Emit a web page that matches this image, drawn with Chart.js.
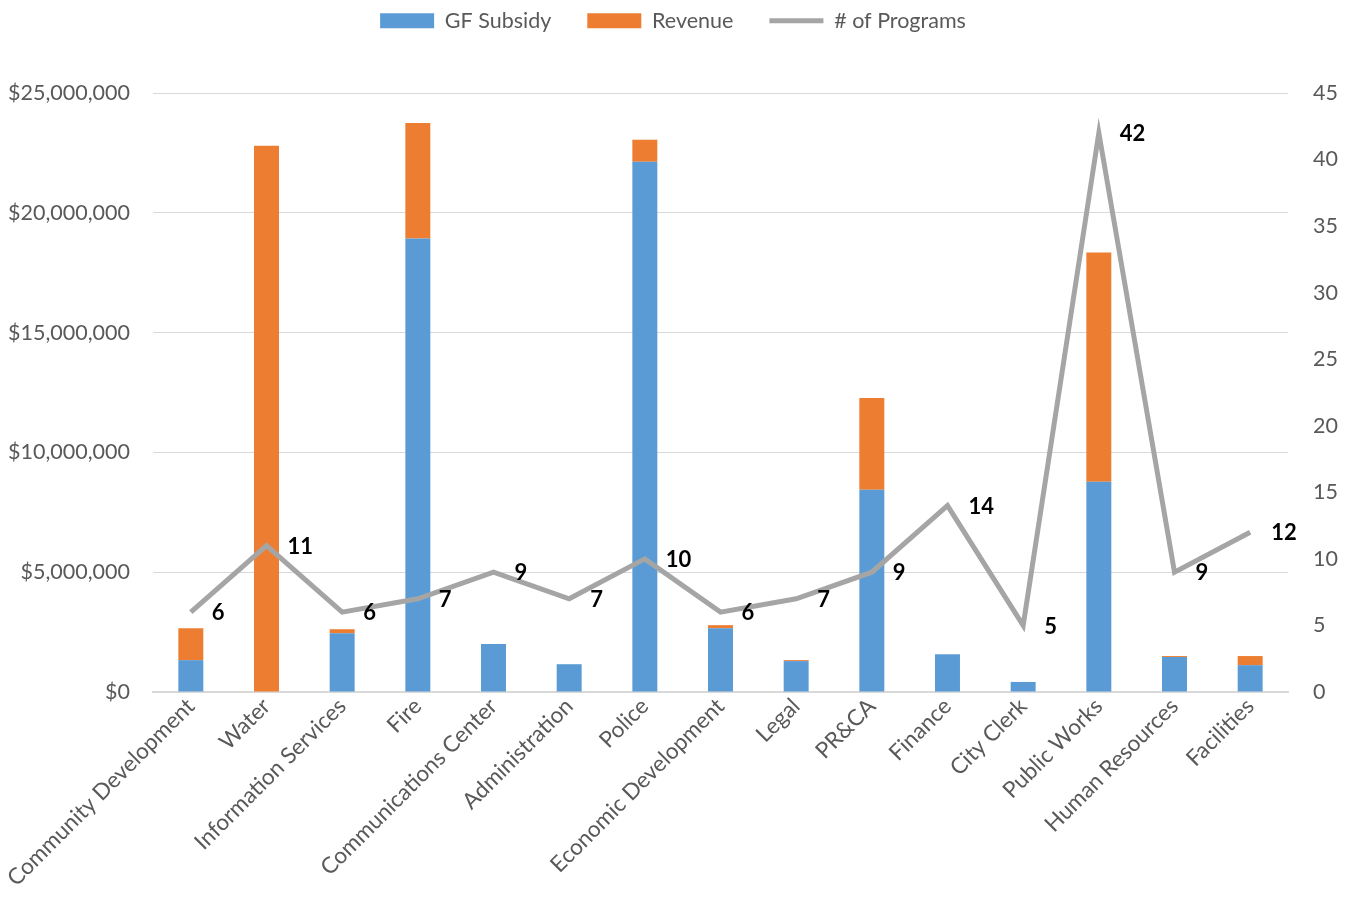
<!DOCTYPE html>
<html>
<head>
<meta charset="utf-8">
<script src="https://cdn.jsdelivr.net/npm/chart.js@4/dist/chart.umd.min.js"></script>
<style>
  html, body { margin: 0; padding: 0; background: #fff; }
  #wrap { width: 1346px; height: 899px; }
</style>
</head>
<body>
<div id="wrap"><canvas id="budget"></canvas></div>
<script>
"use strict";

// departments along the bottom
const departments = [
    "Community Development", "Water", "Information Services", "Fire",
    "Communications Center", "Administration", "Police", "Economic Development",
    "Legal", "PR&CA", "Finance", "City Clerk", "Public Works",
    "Human Resources", "Facilities"
];

// dollars
const gfSubsidy = [
    1330000, 0, 2450000, 18930000, 2000000, 1160000, 22130000, 2660000,
    1290000, 8440000, 1580000, 420000, 8780000, 1460000, 1120000
];
const revenue = [
    1330000, 22800000, 170000, 4820000, 0, 0, 920000, 130000,
    40000, 3830000, 0, 0, 9560000, 40000, 380000
];

// number of programs (right axis)
const programs = [6, 11, 6, 7, 9, 7, 10, 6, 7, 9, 14, 5, 42, 9, 12];

const FONT = "Lato, 'Open Sans', sans-serif";
const GREY_TEXT = "#595959";

/**
 * Skriver antal program till höger om varje punkt på linjen.
 */
const lineLabels = {
    id: "lineLabels",
    afterDatasetsDraw(chart) {
        const meta = chart.getDatasetMeta(0);
        const ctx = chart.ctx;
        ctx.save();
        ctx.font = "bold 22px " + FONT;
        ctx.fillStyle = "#000";
        ctx.textAlign = "left";
        ctx.textBaseline = "middle";
        meta.data.forEach((pt, i) => {
            ctx.fillText(String(programs[i]), pt.x + 21, pt.y + 1);
        });
        ctx.restore();
    }
};

/**
 * Håller legenden i toppen och ger plats åt rutan nedanför.
 */
const legendSpace = {
    id: "legendSpace",
    beforeInit(chart) {
        const fit = chart.legend.fit;
        chart.legend.fit = function () {
            fit.call(this);
            this.height = 119;
        };
    }
};

new Chart(document.getElementById("budget"), {
    data: {
        labels: departments,
        datasets: [
            {
                type: "line",
                label: "# of Programs",
                data: programs,
                yAxisID: "y1",
                borderColor: "#A5A5A5",
                backgroundColor: "#A5A5A5",
                borderWidth: 5,
                pointRadius: 0,
                tension: 0,
                order: 0
            },
            {
                type: "bar",
                label: "GF Subsidy",
                data: gfSubsidy,
                yAxisID: "y",
                backgroundColor: "#5B9BD5",
                categoryPercentage: 1,
                barPercentage: 0.33,
                order: 1
            },
            {
                type: "bar",
                label: "Revenue",
                data: revenue,
                yAxisID: "y",
                backgroundColor: "#ED7D31",
                categoryPercentage: 1,
                barPercentage: 0.33,
                order: 1
            }
        ]
    },
    options: {
        responsive: true,
        maintainAspectRatio: false,
        animation: false,
        layout: { padding: { top: -26, left: 0, right: 0, bottom: 0 } },
        plugins: {
            tooltip: { enabled: false },
            legend: {
                position: "top",
                labels: {
                    font: { family: FONT, size: 21.5 },
                    color: GREY_TEXT,
                    usePointStyle: true,
                    pointStyleWidth: 54,
                    boxHeight: 15,
                    padding: 36,
                    sort: (a, b) => {
                        const rank = [2, 0, 1];
                        return rank[a.datasetIndex] - rank[b.datasetIndex];
                    },
                    generateLabels(chart) {
                        const items = Chart.defaults.plugins.legend.labels.generateLabels(chart);
                        items.forEach(item => {
                            if (item.datasetIndex === 0) {
                                item.pointStyle = "line";
                                item.lineWidth = 5;
                                item.strokeStyle = "#A5A5A5";
                            } else {
                                item.pointStyle = "rect";
                                item.lineWidth = 0;
                            }
                        });
                        return items;
                    }
                }
            }
        },
        scales: {
            x: {
                stacked: true,
                grid: { display: false, drawTicks: false },
                border: { color: "#D9D9D9", width: 2 },
                ticks: {
                    font: { family: FONT, size: 22.5 },
                    color: GREY_TEXT,
                    minRotation: 45,
                    maxRotation: 45,
                    autoSkip: false,
                    padding: 1
                },
                afterFit(scale) { scale.height = 207; }
            },
            y: {
                stacked: true,
                position: "left",
                min: 0,
                max: 25000000,
                grid: { color: "#D9D9D9", drawTicks: false },
                border: { display: false },
                ticks: {
                    stepSize: 5000000,
                    font: { family: FONT, size: 21.5 },
                    color: GREY_TEXT,
                    padding: 23,
                    callback: v => "$" + Number(v).toLocaleString("en-US")
                },
                afterFit(scale) { scale.width = 153; }
            },
            y1: {
                position: "right",
                min: 0,
                max: 45,
                grid: { display: false, drawTicks: false },
                border: { display: false },
                ticks: {
                    stepSize: 5,
                    font: { family: FONT, size: 21.5 },
                    color: GREY_TEXT,
                    padding: 25
                },
                afterFit(scale) { scale.width = 58; }
            }
        }
    },
    plugins: [lineLabels, legendSpace]
});
</script>
</body>
</html>
